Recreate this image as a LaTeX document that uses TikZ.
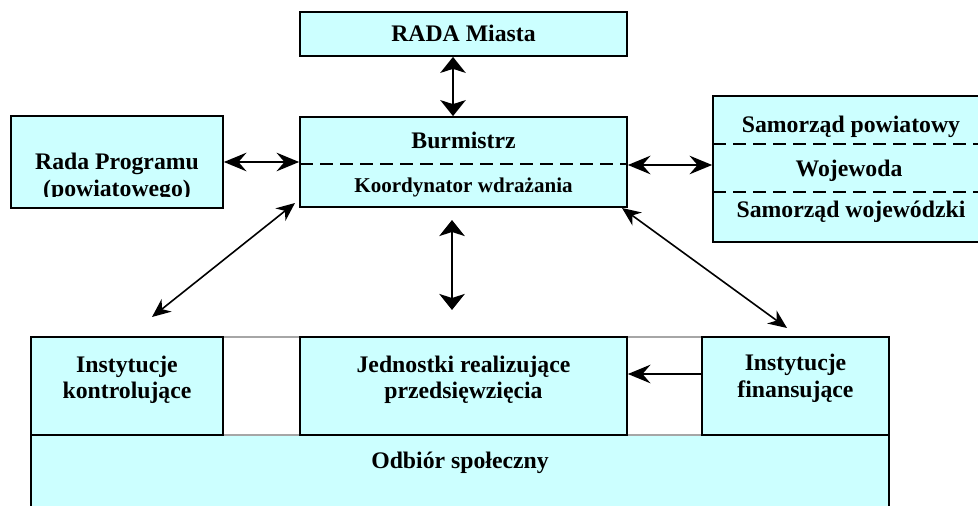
\documentclass[tikz,border=0pt]{standalone}
\usepackage{fontspec}
\setmainfont{Liberation Serif}
\usetikzlibrary{arrows.meta,fit}
\definecolor{boxfill}{HTML}{CCFFFF}
\begin{document}
\begin{tikzpicture}[x=0.75pt,y=-0.75pt,
  box/.style={draw=black,fill=boxfill,line width=1.3pt,inner sep=0pt},
  gapbox/.style={draw=black!35,fill=white,line width=1.3pt,inner sep=0pt},
  lbl/.style={anchor=base,inner sep=0pt,font=\fontsize{17.8pt}{19.5pt}\selectfont\bfseries},
  lbls/.style={anchor=base,inner sep=0pt,font=\fontsize{15.8pt}{18pt}\selectfont\bfseries},
  divider/.style={line width=1.3pt,dash pattern=on 10pt off 5pt},
  harrow/.style={line width=1.2pt,{Stealth[length=17pt,width=14pt,inset=6pt]}-{Stealth[length=17pt,width=14pt,inset=6pt]}},
  varrow/.style={line width=1.8pt,{Stealth[length=12pt,width=19pt,inset=3pt]}-{Stealth[length=12pt,width=19pt,inset=3pt]}},
  darrow/.style={line width=1.2pt,{Stealth[length=14pt,width=12pt,inset=4.5pt]}-{Stealth[length=14pt,width=12pt,inset=4.5pt]}},
  sarrow/.style={line width=1.2pt,-{Stealth[length=17pt,width=14pt,inset=6pt]}}
]
\useasboundingbox (0,0) rectangle (978,506);
\clip (0,0) rectangle (978,506);

% top boxes
\node[box,fit={(300,12) (627,56)}] (rada) {};
\node[box,fit={(300,117) (627,207)}] (burm) {};
\node[box,fit={(11,116) (223,208)}] (prog) {};
\node[box,fit={(713,96) (992,242)}] (samo) {};

% bottom boxes
\node[box,fit={(31,435) (889,520)}] (odb) {};
\node[gapbox,fit={(223,337) (300,435)}] (gapa) {};
\node[gapbox,fit={(627,337) (702,435)}] (gapb) {};
\node[box,fit={(31,337) (223,435)}] (kon) {};
\node[box,fit={(300,337) (627,435)}] (jed) {};
\node[box,fit={(702,337) (889,435)}] (fin) {};

% dividers
\coordinate (bdl) at (300,164);
\coordinate (bdr) at (627,164);
\draw[divider] (bdl) -- (bdr);
\coordinate (sd1) at (713,144);
\coordinate (sd1r) at (992,144);
\coordinate (sd2) at (713,192);
\coordinate (sd2r) at (992,192);
\draw[divider] (sd1) -- (sd1r);
\draw[divider] (sd2) -- (sd2r);

% texts
\node[lbl] (tRada) at (463.5,42) {RADA Miasta};
\node[lbl] (tBurm) at (463.5,149) {Burmistrz};
\node[lbls] (tKoord) at (463.5,193) {Koordynator wdrażania};
\begin{scope}
  \clip (11,116) rectangle (223,197);
  \node[lbl] (tProg1) at (117,170) {Rada Programu};
  \node[lbl] (tProg2) at (117,197) {(powiatowego)};
\end{scope}
\node[lbl] (tSam1) at (851,133) {Samorząd powiatowy};
\node[lbl] (tWoj) at (849,177) {Wojewoda};
\node[lbl] (tSam2) at (851,218) {Samorząd wojewódzki};
\node[lbl] (tKon1) at (127,372) {Instytucje};
\node[lbl] (tKon2) at (127,398) {kontrolujące};
\node[lbl] (tJed1) at (463.5,372) {Jednostki realizujące};
\node[lbl] (tJed2) at (463.5,398) {przedsięwzięcia};
\node[lbl] (tFin1) at (795.5,370) {Instytucje};
\node[lbl] (tFin2) at (795.5,397) {finansujące};
\node[lbl] (tOdb) at (460,468) {Odbiór społeczny};

% connectors
\coordinate (vx) at (453,0);
\draw[varrow] (rada.south -| vx) -- (burm.north -| vx);
\draw[harrow] (prog.east) -- (burm.west |- prog.east);
\coordinate (sy) at (0,165);
\draw[harrow] (burm.east |- sy) -- (samo.west |- sy);
\coordinate (m1) at (452,220);
\coordinate (m2) at (452,310);
\draw[varrow] (m1) -- (m2);
\coordinate (dl1) at (295,203);
\coordinate (dl2) at (152,317);
\draw[darrow] (dl1) -- (dl2);
\coordinate (dr1) at (622,208);
\coordinate (dr2) at (787,328);
\draw[darrow] (dr1) -- (dr2);
\coordinate (fy) at (0,374);
\draw[sarrow] (fin.west |- fy) -- (jed.east |- fy);
\end{tikzpicture}
\end{document}
